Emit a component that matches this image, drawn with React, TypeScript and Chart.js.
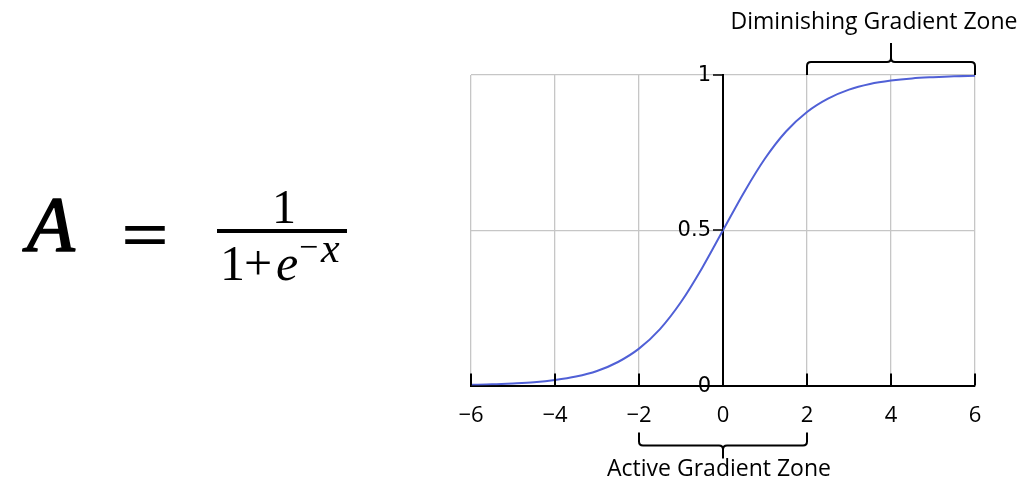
import React, { useEffect, useRef } from 'react';
import { Chart, registerables } from 'chart.js';

Chart.register(...registerables);

// Curve values (x from −6 to 6 in steps of 0.5)
const xValues = [-6, -5.5, -5, -4.5, -4, -3.5, -3, -2.5, -2, -1.5, -1, -0.5, 0, 0.5, 1, 1.5, 2, 2.5, 3, 3.5, 4, 4.5, 5, 5.5, 6];
const activationValues = [0.0025, 0.004, 0.007, 0.011, 0.018, 0.029, 0.047, 0.076, 0.119, 0.182, 0.269, 0.378, 0.5, 0.622, 0.731, 0.818, 0.881, 0.924, 0.953, 0.971, 0.982, 0.989, 0.993, 0.996, 0.9975];

const xTicks = [-6, -4, -2, 0, 2, 4, 6];
const xTickLabels = ['−6', '−4', '−2', '0', '2', '4', '6'];
const yTicks = [0, 0.5, 1];
const yTickLabels = ['0', '0.5', '1'];

const activeZone = [-2, 2];
const diminishingZone = [2, 6];
const activeLabel = 'Active Gradient Zone';
const diminishingLabel = 'Diminishing Gradient Zone';

function drawBracket(ctx: CanvasRenderingContext2D, x1: number, x2: number, yEdge: number, yBar: number, yTip: number) {
  const dir = yBar < yEdge ? -1 : 1;
  const r = 4;
  const xm = (x1 + x2) / 2;
  ctx.beginPath();
  ctx.moveTo(x1, yEdge);
  ctx.lineTo(x1, yBar - dir * r);
  ctx.quadraticCurveTo(x1, yBar, x1 + r, yBar);
  ctx.lineTo(xm - r, yBar);
  ctx.quadraticCurveTo(xm, yBar, xm, yBar + dir * r);
  ctx.lineTo(xm, yTip);
  ctx.moveTo(xm, yBar + dir * r);
  ctx.quadraticCurveTo(xm, yBar, xm + r, yBar);
  ctx.lineTo(x2 - r, yBar);
  ctx.quadraticCurveTo(x2, yBar, x2, yBar - dir * r);
  ctx.lineTo(x2, yEdge);
  ctx.stroke();
}

const overlayPlugin = {
  id: 'overlay',
  afterDraw(chart: any) {
    const ctx: CanvasRenderingContext2D = chart.ctx;
    const xs = chart.scales.x;
    const ys = chart.scales.y;
    const area = chart.chartArea;
    ctx.save();
    // upward tick marks on x axis
    ctx.strokeStyle = '#000';
    ctx.lineWidth = 2;
    xTicks.forEach((v) => {
      const px = Math.round(xs.getPixelForValue(v));
      ctx.beginPath();
      ctx.moveTo(px, area.bottom);
      ctx.lineTo(px, area.bottom - 12);
      ctx.stroke();
    });
    // y axis ticks and labels (axis crosses at x = 0)
    const axisX = Math.round(xs.getPixelForValue(0));
    ctx.lineWidth = 1.5;
    ctx.fillStyle = '#000';
    ctx.font = '21px "DejaVu Sans"';
    ctx.textAlign = 'right';
    ctx.textBaseline = 'middle';
    yTicks.forEach((v, i) => {
      const py = Math.round(ys.getPixelForValue(v));
      ctx.beginPath();
      ctx.moveTo(axisX - 10, py);
      ctx.lineTo(axisX, py);
      ctx.stroke();
      ctx.fillText(yTickLabels[i], axisX - 12, py + 1);
    });
    // brackets
    ctx.lineWidth = 2;
    ctx.lineJoin = 'round';
    drawBracket(ctx, xs.getPixelForValue(diminishingZone[0]), xs.getPixelForValue(diminishingZone[1]), area.top, area.top - 13, area.top - 32);
    drawBracket(ctx, xs.getPixelForValue(activeZone[0]), xs.getPixelForValue(activeZone[1]), area.bottom + 47, area.bottom + 60, area.bottom + 73);
    // zone labels
    ctx.font = '23px "Open Sans"';
    ctx.textAlign = 'center';
    ctx.textBaseline = 'middle';
    ctx.fillText(diminishingLabel, 874, 22);
    ctx.fillText(activeLabel, 719, 469);

    // formula
    ctx.textAlign = 'left';
    ctx.textBaseline = 'alphabetic';
    ctx.font = 'italic 78px "Liberation Serif"';
    ctx.lineWidth = 1.6;
    ctx.fillText('A', 27, 250);
    ctx.strokeText('A', 27, 250);
    ctx.save();
    ctx.translate(121, 0);
    ctx.scale(1.25, 1);
    ctx.font = 'bold 68px "Liberation Serif"';
    ctx.fillText('=', 0, 257);
    ctx.restore();
    ctx.font = '48px "Liberation Serif"';
    ctx.textAlign = 'center';
    ctx.fillText('1', 284, 223);
    ctx.fillRect(217, 229, 130, 4);
    ctx.textAlign = 'left';
    ctx.font = '50px "Liberation Serif"';
    ctx.fillText('1', 220, 280);
    ctx.fillText('+', 244, 280);
    ctx.font = 'italic 50px "Liberation Serif"';
    ctx.fillText('e', 276, 280);
    ctx.font = '34px "Liberation Serif"';
    ctx.fillText('−', 299, 258);
    ctx.font = 'italic 42px "Liberation Serif"';
    ctx.fillText('x', 321, 262);
    ctx.restore();
  },
};

export default function App() {
  const ref = useRef<HTMLCanvasElement | null>(null);
  useEffect(() => {
    if (!ref.current) return;
    const chart = new Chart(ref.current, {
      type: 'line',
      data: {
        datasets: [
          {
            data: xValues.map((x, i) => ({ x, y: activationValues[i] })),
            borderColor: '#5060d6',
            borderWidth: 2,
            pointRadius: 0,
            fill: false,
            cubicInterpolationMode: 'monotone',
          },
        ],
      },
      options: {
        responsive: false,
        animation: false,
        layout: { padding: { left: 471, right: 58, top: 75, bottom: 53 } },
        plugins: { legend: { display: false }, tooltip: { enabled: false } },
        scales: {
          x: {
            type: 'linear',
            min: -6,
            max: 6,
            afterBuildTicks: (s: any) => {
              s.ticks = xTicks.map((v) => ({ value: v }));
            },
            ticks: {
              autoSkip: false,
              maxRotation: 0,
              padding: 17,
              color: '#000',
              font: { family: 'Open Sans', size: 22 },
              callback: (v: any) => xTickLabels[xTicks.indexOf(Number(v))],
            },
            grid: {
              drawTicks: false,
              lineWidth: 1.3,
              color: (c: any) => (c.tick && c.tick.value === 0 ? 'rgba(0,0,0,0)' : '#c6c6c6'),
            },
            border: { color: '#000', width: 2 },
          },
          y: {
            type: 'linear',
            min: 0,
            max: 1,
            position: { x: 0 },
            afterBuildTicks: (s: any) => {
              s.ticks = yTicks.map((v) => ({ value: v }));
            },
            ticks: { display: false },
            grid: {
              drawTicks: false,
              lineWidth: 1.3,
              color: (c: any) => (c.tick && c.tick.value === 0 ? 'rgba(0,0,0,0)' : '#c6c6c6'),
            },
            border: { color: '#000', width: 2 },
          },
        },
      },
      plugins: [overlayPlugin],
    } as any);
    return () => chart.destroy();
  }, []);
  return (
    <div style={{ position: 'fixed', left: 0, top: 0, width: 1033, height: 499, background: '#fff' }}>
      <canvas ref={ref} width={1033} height={499} style={{ width: 1033, height: 499, display: 'block' }} />
    </div>
  );
}
